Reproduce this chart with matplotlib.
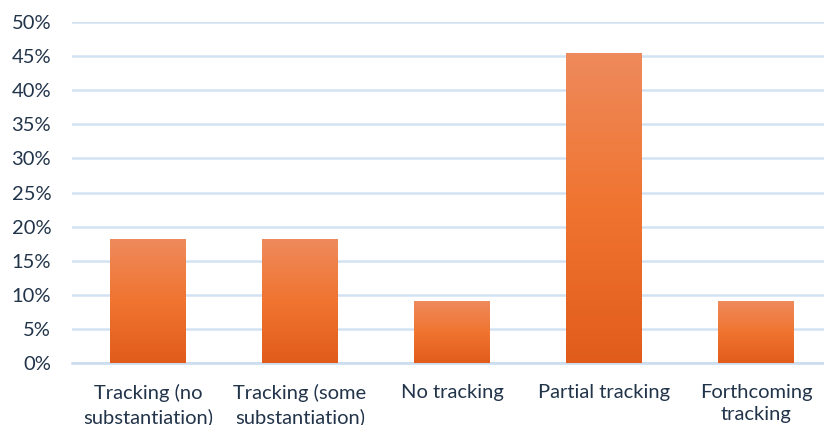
import matplotlib
matplotlib.use("Agg")
import matplotlib.pyplot as plt
import numpy as np
from matplotlib.colors import LinearSegmentedColormap

categories = ["Tracking (no\nsubstantiation)", "Tracking (some\nsubstantiation)",
              "No tracking", "Partial tracking", "Forthcoming\ntracking"]
values = [0.1818, 0.1818, 0.0909, 0.4545, 0.0909]
yticks = [0, 0.05, 0.10, 0.15, 0.20, 0.25, 0.30, 0.35, 0.40, 0.45, 0.50]
ytick_labels = ["0%", "5%", "10%", "15%", "20%", "25%", "30%", "35%", "40%", "45%", "50%"]

plt.rcParams['font.family'] = ['Lato', 'DejaVu Sans']

fig = plt.figure(figsize=(8.24, 4.25), dpi=100)
W, H = 824, 425
left, right, top, bottom = 72, 832, 22, 363
ax = fig.add_axes([left / W, 1 - bottom / H, (right - left) / W, (bottom - top) / H])

x = np.arange(len(categories))
bars = ax.bar(x, values, width=0.5, color='none', edgecolor='none', zorder=3)

cmap = LinearSegmentedColormap.from_list("og", ["#E15C1A", "#F07430", "#EE8A5C"])
grad = np.linspace(0, 1, 256).reshape(-1, 1)
for b in bars:
    x0, y0 = b.get_x(), b.get_y()
    w, h = b.get_width(), b.get_height()
    ax.imshow(grad, extent=[x0, x0 + w, y0, y0 + h], origin='lower', cmap=cmap,
              aspect='auto', zorder=3, interpolation='bilinear')

ax.set_xlim(-0.5, len(categories) - 0.5)
ax.set_ylim(0, 0.5)
ax.set_yticks(yticks)
ax.set_yticklabels(ytick_labels)
ax.yaxis.grid(True, color='#D3E2F2', linewidth=1.8, zorder=0)
ax.set_axisbelow(True)
for s in ['top', 'right', 'left']:
    ax.spines[s].set_visible(False)
ax.spines['bottom'].set_color('#C9DBEE')
ax.spines['bottom'].set_linewidth(1.8)
ax.set_xticks(x)
ax.set_xticklabels(categories, linespacing=1.4)
ax.tick_params(axis='both', length=0, labelsize=14.5, colors='#22344A')
ax.tick_params(axis='y', pad=15)
ax.tick_params(axis='x', pad=15)

fig.savefig("out.png", dpi=100)
